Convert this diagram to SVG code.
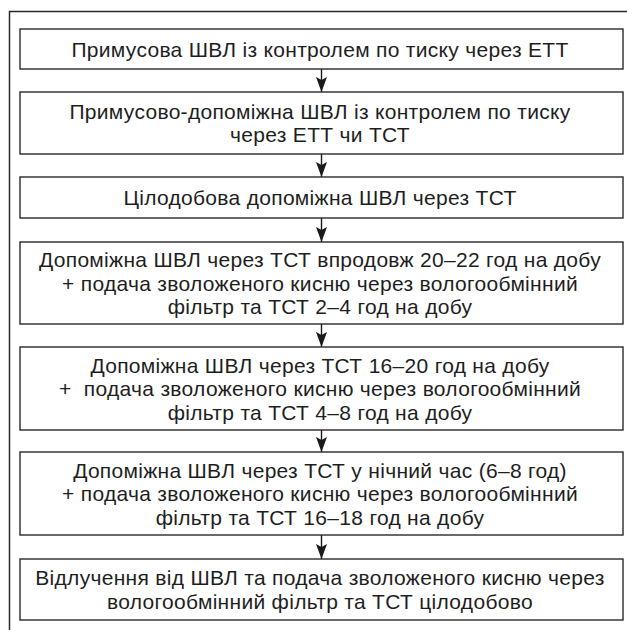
<svg xmlns="http://www.w3.org/2000/svg" width="627" height="630" viewBox="0 0 627 630">
<defs>
<marker id="ah" viewBox="0 0 15 11" refX="15" refY="5.5" markerWidth="15" markerHeight="11" markerUnits="userSpaceOnUse" orient="auto">
<path d="M0,0 L15,5.5 L0,11 L3,5.5 z" fill="#1a1a1a"/>
</marker>
<style>
.box{fill:#fff;stroke:#2a2a2a;stroke-width:1.4}
.t{font-family:"Liberation Sans",Arial,sans-serif;font-size:21px;letter-spacing:0.3px;fill:#1e1e1e;text-anchor:middle;white-space:pre}
.c{stroke:#1a1a1a;stroke-width:1.4;fill:none}
</style>
</defs>
<rect width="627" height="630" fill="#fff"/>
<path d="M9.5,632 V11.5 H629" fill="none" stroke="#2a2a2a" stroke-width="1.5"/>
<g id="connectors">
<line class="c" x1="321.5" y1="69" x2="321.5" y2="92" marker-end="url(#ah)"/>
<line class="c" x1="321.5" y1="154" x2="321.5" y2="177" marker-end="url(#ah)"/>
<line class="c" x1="321.5" y1="218" x2="321.5" y2="242" marker-end="url(#ah)"/>
<line class="c" x1="321.5" y1="324" x2="321.5" y2="347" marker-end="url(#ah)"/>
<line class="c" x1="321.5" y1="430" x2="321.5" y2="452" marker-end="url(#ah)"/>
<line class="c" x1="321.5" y1="535" x2="321.5" y2="559" marker-end="url(#ah)"/>
</g>
<g id="n1">
<rect class="box" x="20" y="29" width="603" height="40"/>
<text class="t" x="320" y="56.5">Примусова ШВЛ із контролем по тиску через ЕТТ</text>
</g>
<g id="n2">
<rect class="box" x="20" y="92" width="603" height="62"/>
<text class="t" x="320" y="118.5">Примусово-допоміжна ШВЛ із контролем по тиску</text>
<text class="t" x="320" y="142">через ЕТТ чи ТСТ</text>
</g>
<g id="n3">
<rect class="box" x="20" y="177" width="603" height="41"/>
<text class="t" x="320" y="205">Цілодобова допоміжна ШВЛ через ТСТ</text>
</g>
<g id="n4">
<rect class="box" x="20" y="242" width="603" height="82"/>
<text class="t" x="320" y="267">Допоміжна ШВЛ через ТСТ впродовж 20–22 год на добу</text>
<text class="t" x="320" y="290.5">+ подача зволоженого кисню через вологообмінний</text>
<text class="t" x="320" y="314">фільтр та ТСТ 2–4 год на добу</text>
</g>
<g id="n5">
<rect class="box" x="20" y="347" width="603" height="83"/>
<text class="t" x="320" y="372.5">Допоміжна ШВЛ через ТСТ 16–20 год на добу</text>
<text class="t" x="320" y="396">+  подача зволоженого кисню через вологообмінний</text>
<text class="t" x="320" y="419.5">фільтр та ТСТ 4–8 год на добу</text>
</g>
<g id="n6">
<rect class="box" x="20" y="452" width="603" height="83"/>
<text class="t" x="320" y="477.5">Допоміжна ШВЛ через ТСТ у нічний час (6–8 год)</text>
<text class="t" x="320" y="501">+ подача зволоженого кисню через вологообмінний</text>
<text class="t" x="320" y="524.5">фільтр та ТСТ 16–18 год на добу</text>
</g>
<g id="n7">
<rect class="box" x="20" y="559" width="603" height="61"/>
<text class="t" x="320" y="585.3">Відлучення від ШВЛ та подача зволоженого кисню через</text>
<text class="t" x="320" y="608.8">вологообмінний фільтр та ТСТ цілодобово</text>
</g>
</svg>
